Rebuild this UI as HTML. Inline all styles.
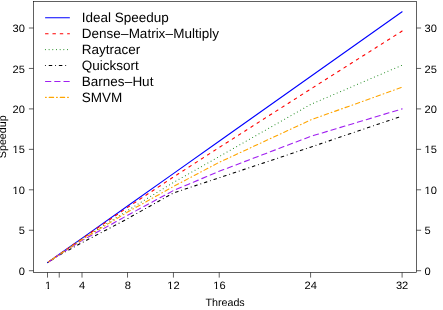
<!DOCTYPE html>
<html><head><meta charset="utf-8"><title>Speedup</title>
<style>html,body{margin:0;padding:0;background:#fff;}svg{display:block;will-change:transform;opacity:0.999;}text{font-family:"Liberation Sans",sans-serif;fill:#000;text-rendering:geometricPrecision;}</style></head><body>
<svg width="443" height="310" viewBox="0 0 443 310">
<rect x="0" y="0" width="443" height="310" fill="#fff"/>
<polyline fill="none" stroke="#0000ff" stroke-width="1.1" stroke-linecap="round" stroke-dashoffset="0" points="47.50,262.61 58.94,254.52 81.82,238.34 127.57,205.98 173.33,173.62 219.08,141.26 310.59,76.54 402.10,11.82"/>
<polyline fill="none" stroke="#ff0000" stroke-width="1.1" stroke-linecap="round" stroke-dasharray="2.580 4.780" stroke-dashoffset="-1.49" points="47.50,262.61 58.94,254.68 81.82,238.91 127.57,207.36 173.33,177.10 219.08,147.57 310.59,89.08 402.10,31.07"/>
<polyline fill="none" stroke="#228b22" stroke-width="1.1" stroke-linecap="round" stroke-dasharray="0.001 3.679" stroke-dashoffset="-1.17" points="47.50,262.61 58.94,254.76 81.82,239.31 127.57,210.51 173.33,182.52 219.08,156.63 310.59,104.45 402.10,65.21"/>
<polyline fill="none" stroke="#000000" stroke-width="1.1" stroke-linecap="round" stroke-dasharray="0.001 3.770 2.580 3.770" stroke-dashoffset="-0.75" points="47.50,262.61 58.94,255.33 81.82,242.79 127.57,218.68 173.33,192.96 219.08,177.83 310.59,147.17 402.10,116.02"/>
<polyline fill="none" stroke="#a020f0" stroke-width="1.1" stroke-linecap="round" stroke-dasharray="5.340 3.860" stroke-dashoffset="-1.15" points="47.50,262.61 58.94,254.92 81.82,240.61 127.57,215.28 173.33,190.61 219.08,171.35 310.59,136.41 402.10,108.90"/>
<polyline fill="none" stroke="#ffa500" stroke-width="1.1" stroke-linecap="round" stroke-dasharray="0.740 2.940 4.420 2.940" stroke-dashoffset="-1.43" points="47.50,262.61 58.94,254.84 81.82,239.72 127.57,212.05 173.33,186.56 219.08,162.37 310.59,119.98 402.10,87.22"/>
<rect x="33.5" y="1.5" width="383.0" height="271.0" fill="none" stroke="#000" stroke-width="0.62"/>
<path d="M47.50 272.50v5.10 M59.24 272.50v5.10 M82.00 272.50v5.10 M127.52 272.50v5.10 M173.43 272.50v5.10 M219.23 272.50v5.10 M310.59 272.50v5.10 M402.10 272.50v5.10 M33.50 270.70h-4.60 M416.50 270.70h4.60 M33.50 230.25h-4.60 M416.50 230.25h4.60 M33.50 189.80h-4.60 M416.50 189.80h4.60 M33.50 149.35h-4.60 M416.50 149.35h4.60 M33.50 108.90h-4.60 M416.50 108.90h4.60 M33.50 68.45h-4.60 M416.50 68.45h4.60 M33.50 28.00h-4.60 M416.50 28.00h4.60" fill="none" stroke="#000" stroke-width="0.62"/>
<text transform="translate(48.10,289.00) scale(1.04,1)" font-size="10.7" text-anchor="middle">1</text><rect x="45.56" y="287.95" width="1.99" height="1.3" fill="#fff"/><rect x="49.04" y="287.95" width="2.11" height="1.3" fill="#fff"/>
<text transform="translate(82.02,289.00) scale(1.04,1)" font-size="10.7" text-anchor="middle">4</text>
<text transform="translate(127.77,289.00) scale(1.04,1)" font-size="10.7" text-anchor="middle">8</text>
<text transform="translate(173.53,289.00) scale(1.04,1)" font-size="10.7" text-anchor="middle">12</text><rect x="167.90" y="287.95" width="1.99" height="1.3" fill="#fff"/><rect x="171.37" y="287.95" width="2.11" height="1.3" fill="#fff"/>
<text transform="translate(219.38,289.00) scale(1.04,1)" font-size="10.7" text-anchor="middle">16</text><rect x="213.75" y="287.95" width="1.99" height="1.3" fill="#fff"/><rect x="217.23" y="287.95" width="2.11" height="1.3" fill="#fff"/>
<text transform="translate(310.79,289.00) scale(1.04,1)" font-size="10.7" text-anchor="middle">24</text>
<text transform="translate(402.10,289.00) scale(1.04,1)" font-size="10.7" text-anchor="middle">32</text>
<text transform="translate(24.90,275.00) scale(1.04,1)" font-size="10.7" text-anchor="end">0</text>
<text transform="translate(424.60,275.00) scale(1.04,1)" font-size="10.7" text-anchor="start">0</text>
<text transform="translate(24.90,234.00) scale(1.04,1)" font-size="10.7" text-anchor="end">5</text>
<text transform="translate(424.60,234.00) scale(1.04,1)" font-size="10.7" text-anchor="start">5</text>
<text transform="translate(24.90,194.00) scale(1.04,1)" font-size="10.7" text-anchor="end">10</text><rect x="13.08" y="192.95" width="1.99" height="1.3" fill="#fff"/><rect x="16.56" y="192.95" width="2.11" height="1.3" fill="#fff"/>
<text transform="translate(424.60,194.00) scale(1.04,1)" font-size="10.7" text-anchor="start">10</text><rect x="425.16" y="192.95" width="1.99" height="1.3" fill="#fff"/><rect x="428.63" y="192.95" width="2.11" height="1.3" fill="#fff"/>
<text transform="translate(24.90,153.00) scale(1.04,1)" font-size="10.7" text-anchor="end">15</text><rect x="13.08" y="151.95" width="1.99" height="1.3" fill="#fff"/><rect x="16.56" y="151.95" width="2.11" height="1.3" fill="#fff"/>
<text transform="translate(424.60,153.00) scale(1.04,1)" font-size="10.7" text-anchor="start">15</text><rect x="425.16" y="151.95" width="1.99" height="1.3" fill="#fff"/><rect x="428.63" y="151.95" width="2.11" height="1.3" fill="#fff"/>
<text transform="translate(24.90,113.00) scale(1.04,1)" font-size="10.7" text-anchor="end">20</text>
<text transform="translate(424.60,113.00) scale(1.04,1)" font-size="10.7" text-anchor="start">20</text>
<text transform="translate(24.90,73.00) scale(1.04,1)" font-size="10.7" text-anchor="end">25</text>
<text transform="translate(424.60,73.00) scale(1.04,1)" font-size="10.7" text-anchor="start">25</text>
<text transform="translate(24.90,32.00) scale(1.04,1)" font-size="10.7" text-anchor="end">30</text>
<text transform="translate(424.60,32.00) scale(1.04,1)" font-size="10.7" text-anchor="start">30</text>
<text x="225.1" y="306.3" font-size="10.7" text-anchor="middle">Threads</text>
<text transform="translate(5.8,136.8) rotate(-90)" font-size="10.7" text-anchor="middle">Speedup</text>
<path d="M45.52 17.75H69.43" fill="none" stroke="#0000ff" stroke-width="1.1" stroke-linecap="round"/>
<text x="81.7" y="22" font-size="13.5">Ideal Speedup</text>
<path d="M45.52 33.68H69.43" fill="none" stroke="#ff0000" stroke-width="1.1" stroke-linecap="round" stroke-dasharray="2.580 4.780"/>
<text x="81.7" y="38" font-size="13.5">Dense<tspan dx="0.19">–</tspan><tspan dx="0.19">Matrix</tspan><tspan dx="0.19">–</tspan><tspan dx="0.19">Multiply</tspan></text>
<path d="M45.43 49.61H69.43" fill="none" stroke="#228b22" stroke-width="1.1" stroke-linecap="round" stroke-dasharray="0.001 3.679"/>
<text x="81.7" y="54" font-size="13.5">Raytracer</text>
<path d="M45.43 65.54H69.43" fill="none" stroke="#000000" stroke-width="1.1" stroke-linecap="round" stroke-dasharray="0.001 3.770 2.580 3.770"/>
<text x="81.7" y="70" font-size="13.5">Quicksort</text>
<path d="M45.52 81.47H69.43" fill="none" stroke="#a020f0" stroke-width="1.1" stroke-linecap="round" stroke-dasharray="5.340 3.860"/>
<text x="81.7" y="86" font-size="13.5">Barnes<tspan dx="0.19">–</tspan><tspan dx="0.19">Hut</tspan></text>
<path d="M45.52 97.40H69.43" fill="none" stroke="#ffa500" stroke-width="1.1" stroke-linecap="round" stroke-dasharray="0.740 2.940 4.420 2.940"/>
<text x="81.7" y="102" font-size="13.5">SMVM</text>
</svg></body></html>
